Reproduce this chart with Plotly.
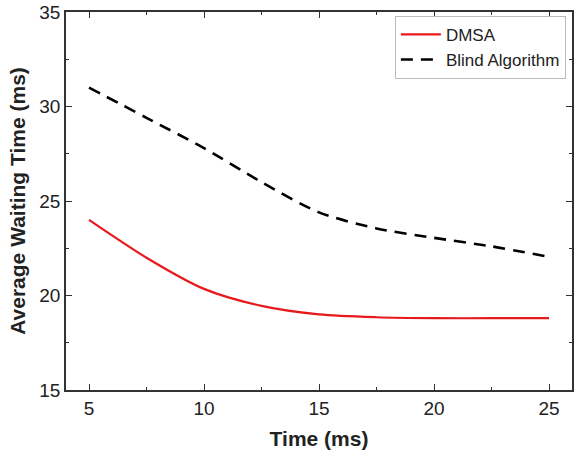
import plotly.graph_objects as go

time_ms = [5, 7.5, 10, 12.5, 15, 17.5, 20, 22.5, 25]
dmsa = [24.0, 22.0, 20.35, 19.45, 19.0, 18.85, 18.8, 18.8, 18.8]
blind = [31.0, 29.4, 27.8, 26.0, 24.4, 23.55, 23.05, 22.6, 22.05]

FONT = "Liberation Sans, Arial"

fig = go.Figure()
fig.add_trace(go.Scatter(x=time_ms, y=dmsa, mode="lines", name="DMSA",
                         line=dict(color="#e8191c", width=2.2, shape="spline", smoothing=0.8)))
fig.add_trace(go.Scatter(x=time_ms, y=blind, mode="lines", name="Blind Algorithm",
                         line=dict(color="black", width=2.6, shape="spline", smoothing=0.8, dash="12px,8px")))

axis_common = dict(showline=True, linecolor="#333", linewidth=1.5, mirror="ticks",
                   ticks="inside", ticklen=6, tickwidth=1.2, tickcolor="#333",
                   showgrid=False, zeroline=False,
                   tickfont=dict(family=FONT, size=19, color="#222"))

fig.update_xaxes(range=[4, 26], tickvals=[5, 10, 15, 20, 25],
                 minor=dict(ticks="inside", ticklen=3, tickcolor="#333", dtick=2.5, tick0=5),
                 title=dict(text="<b>Time (ms)</b>", font=dict(family=FONT, size=21, color="#222"),
                            standoff=14),
                 **axis_common)
fig.update_yaxes(range=[15, 35], tickvals=[15, 20, 25, 30, 35],
                 minor=dict(ticks="inside", ticklen=3, tickcolor="#333", dtick=2.5, tick0=15),
                 title=dict(text="<b>Average Waiting Time (ms)</b>", font=dict(family=FONT, size=21, color="#222"),
                            standoff=8),
                 **axis_common)

fig.update_layout(
    width=576, height=459,
    margin=dict(l=66, r=2, t=12, b=69),
    plot_bgcolor="white", paper_bgcolor="white",
    legend=dict(x=0.65, y=0.99, xanchor="left", yanchor="top",
                bgcolor="rgba(255,255,255,0.9)", bordercolor="#bbb", borderwidth=1,
                font=dict(family=FONT, size=17, color="#222"),
                tracegroupgap=0, itemwidth=40),
    showlegend=True,
)

fig.write_html("out.html")
